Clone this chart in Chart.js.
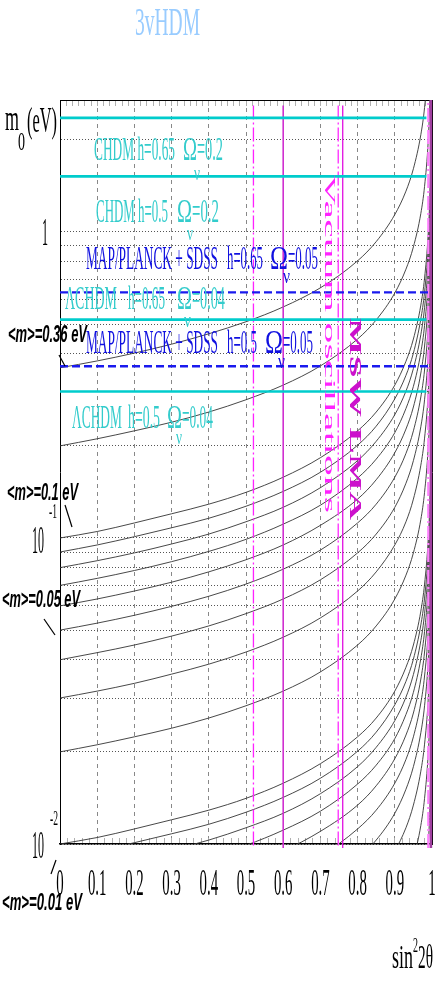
<!DOCTYPE html>
<html>
<head>
<meta charset="utf-8">
<script src="https://cdn.jsdelivr.net/npm/chart.js@4.4.1/dist/chart.umd.min.js"></script>
<style>
  html, body { margin: 0; padding: 0; background: #fff; }
  canvas { display: block; }
</style>
</head>
<body>
<canvas id="c" width="436" height="981"></canvas>
<script>
// sin^2(2theta) positions where each curve was read
const sin2 = [0, 0.1, 0.2, 0.3, 0.4, 0.5, 0.6, 0.7, 0.8, 0.85, 0.9, 0.93, 0.95, 0.97, 0.98, 0.99, 0.995, 0.998, 0.999, 0.9995];

// m0 (eV) along the constant <m> curves
const m036 = [0.36, 0.379, 0.402, 0.430, 0.465, 0.509, 0.569, 0.657, 0.805, 0.930, 1.14, 1.36, 1.61, 2.08, 2.55, 3.6];
const m020 = [0.2, 0.211, 0.224, 0.239, 0.258, 0.283, 0.316, 0.365, 0.447, 0.516, 0.632, 0.756, 0.894, 1.15, 1.41, 2.0, 2.83];
const m010 = [0.1, 0.105, 0.112, 0.120, 0.129, 0.141, 0.158, 0.183, 0.224, 0.258, 0.316, 0.378, 0.447, 0.577, 0.707, 1.0, 1.41, 2.24, 3.16];
const m009 = [0.09, 0.0949, 0.101, 0.108, 0.116, 0.127, 0.142, 0.164, 0.201, 0.232, 0.285, 0.340, 0.402, 0.520, 0.636, 0.9, 1.27, 2.01, 2.85];
const m008 = [0.08, 0.0843, 0.0894, 0.0956, 0.103, 0.113, 0.126, 0.146, 0.179, 0.207, 0.253, 0.302, 0.358, 0.462, 0.566, 0.8, 1.13, 1.79, 2.53, 3.58];
const m007 = [0.07, 0.0738, 0.0783, 0.0837, 0.0904, 0.099, 0.111, 0.128, 0.157, 0.181, 0.221, 0.265, 0.313, 0.404, 0.495, 0.7, 0.99, 1.57, 2.21, 3.13];
const m006 = [0.06, 0.0632, 0.0671, 0.0717, 0.0775, 0.0849, 0.0949, 0.110, 0.134, 0.155, 0.190, 0.227, 0.268, 0.346, 0.424, 0.6, 0.849, 1.34, 1.90, 2.68];
const m005 = [0.05, 0.0527, 0.0559, 0.0598, 0.0645, 0.0707, 0.0791, 0.0913, 0.112, 0.129, 0.158, 0.189, 0.224, 0.289, 0.354, 0.5, 0.707, 1.12, 1.58, 2.24];
const m004 = [0.04, 0.0422, 0.0447, 0.0478, 0.0516, 0.0566, 0.0632, 0.0730, 0.0894, 0.103, 0.126, 0.151, 0.179, 0.231, 0.283, 0.4, 0.566, 0.894, 1.26, 1.79];
const m003 = [0.03, 0.0316, 0.0335, 0.0359, 0.0387, 0.0424, 0.0474, 0.0548, 0.0671, 0.0775, 0.0949, 0.113, 0.134, 0.173, 0.212, 0.3, 0.424, 0.671, 0.949, 1.34];
const m002 = [0.02, 0.0211, 0.0224, 0.0239, 0.0258, 0.0283, 0.0316, 0.0365, 0.0447, 0.0516, 0.0632, 0.0756, 0.0894, 0.115, 0.141, 0.2, 0.283, 0.447, 0.632, 0.894];
const m001 = [0.01, 0.0105, 0.0112, 0.0120, 0.0129, 0.0141, 0.0158, 0.0183, 0.0224, 0.0258, 0.0316, 0.0378, 0.0447, 0.0577, 0.0707, 0.1, 0.141, 0.224, 0.316, 0.447];
const m0009 = [0.009, 0.00949, 0.0101, 0.0108, 0.0116, 0.0127, 0.0142, 0.0164, 0.0201, 0.0232, 0.0285, 0.0340, 0.0402, 0.0520, 0.0636, 0.09, 0.127, 0.201, 0.285, 0.402];
const m0008 = [0.008, 0.00843, 0.00894, 0.00956, 0.0103, 0.0113, 0.0126, 0.0146, 0.0179, 0.0207, 0.0253, 0.0302, 0.0358, 0.0462, 0.0566, 0.08, 0.113, 0.179, 0.253, 0.358];
const m0007 = [0.007, 0.00738, 0.00783, 0.00837, 0.00904, 0.0099, 0.0111, 0.0128, 0.0157, 0.0181, 0.0221, 0.0265, 0.0313, 0.0404, 0.0495, 0.07, 0.099, 0.157, 0.221, 0.313];
const m0006 = [0.006, 0.00632, 0.00671, 0.00717, 0.00775, 0.00849, 0.00949, 0.0110, 0.0134, 0.0155, 0.0190, 0.0227, 0.0268, 0.0346, 0.0424, 0.06, 0.0849, 0.134, 0.190, 0.268];
const m0005 = [0.005, 0.00527, 0.00559, 0.00598, 0.00645, 0.00707, 0.00791, 0.00913, 0.0112, 0.0129, 0.0158, 0.0189, 0.0224, 0.0289, 0.0354, 0.05, 0.0707, 0.112, 0.158, 0.224];
const m0004 = [0.004, 0.00422, 0.00447, 0.00478, 0.00516, 0.00566, 0.00632, 0.00730, 0.00894, 0.0103, 0.0126, 0.0151, 0.0179, 0.0231, 0.0283, 0.04, 0.0566, 0.0894, 0.126, 0.179];
const m0003 = [0.003, 0.00316, 0.00335, 0.00359, 0.00387, 0.00424, 0.00474, 0.00548, 0.00671, 0.00775, 0.00949, 0.0113, 0.0134, 0.0173, 0.0212, 0.03, 0.0424, 0.0671, 0.0949, 0.134];
const m0002 = [0.002, 0.00211, 0.00224, 0.00239, 0.00258, 0.00283, 0.00316, 0.00365, 0.00447, 0.00516, 0.00632, 0.00756, 0.00894, 0.0115, 0.0141, 0.02, 0.0283, 0.0447, 0.0632, 0.0894];
const m0001 = [0.001, 0.00105, 0.00112, 0.0012, 0.00129, 0.00141, 0.00158, 0.00183, 0.00224, 0.00258, 0.00316, 0.00378, 0.00447, 0.00577, 0.00707, 0.01, 0.0141, 0.0224, 0.0316, 0.0447];

// cosmological bounds on m0 (eV)
const chdmLevels = [2.36, 1.52, 0.517, 0.301];   // CHDM h=0.65, CHDM h=0.5, ΛCHDM h=0.65, ΛCHDM h=0.5
const mapLevels = [0.635, 0.364];                // MAP/PLANCK + SDSS h=0.65, h=0.5
const boundSpan = [0, 0.985];

// oscillation solution edges in sin^2 2θ
const vacuumEdges = [0.52, 0.748];
const mswEdges = [0.6, 0.76];
const edgeDash = 0.99;
const edgeSolid = 0.997;
const edgeSpan = [2.59, 0.0097];

const xTickValues = [0, 0.1, 0.2, 0.3, 0.4, 0.5, 0.6, 0.7, 0.8, 0.9, 1];
const xTickLabels = ["0", "0.1", "0.2", "0.3", "0.4", "0.5", "0.6", "0.7", "0.8", "0.9", "1"];

const CYAN = "#00cccc";
const BLUE = "#1a1aee";
const SERIF = (px) => px + 'px "Liberation Serif", "DejaVu Serif", serif';

const curves = [m036, m020, m010, m009, m008, m007, m006, m005, m004, m003, m002, m001,
  m0009, m0008, m0007, m0006, m0005, m0004, m0003, m0002, m0001];

const datasets = [];

curves.forEach((vals) => {
  datasets.push({
    data: vals.map((v, i) => ({ x: sin2[i], y: v })),
    showLine: true,
    borderColor: "#333",
    borderWidth: 0.9,
    pointRadius: 0,
    cubicInterpolationMode: "monotone",
    order: 3,
  });
});

function vline(x, color, width, dash, full) {
  datasets.push({
    data: [{ x: x, y: full ? 3 : edgeSpan[0] }, { x: x, y: edgeSpan[1] }],
    showLine: true,
    borderColor: color,
    borderWidth: width,
    borderDash: dash,
    pointRadius: 0,
    clip: { left: 0, top: 0, right: 6, bottom: 5 },
    order: 2,
  });
}

vline(vacuumEdges[0], "#ff22ff", 1.3, [14, 3, 2, 3]);
vline(vacuumEdges[1], "#ff44ff", 1.5, [14, 3, 2, 3]);
vline(mswEdges[0], "#d030d0", 1.6, []);
vline(mswEdges[1], "#e010e0", 1.3, []);
vline(edgeDash, "#ff80ff", 2.2, [14, 3, 2, 3], true);
vline(edgeSolid, "#a040a0", 2.6, [], true);

chdmLevels.forEach((m) => {
  datasets.push({
    data: boundSpan.map((x) => ({ x: x, y: m })),
    showLine: true,
    borderColor: CYAN,
    borderWidth: 2.6,
    pointRadius: 0,
    order: 1,
  });
});

mapLevels.forEach((m) => {
  datasets.push({
    data: [{ x: 0, y: m }, { x: 1, y: m }],
    showLine: true,
    borderColor: BLUE,
    borderWidth: 2.4,
    borderDash: [8, 4],
    pointRadius: 0,
    order: 1,
  });
});

// text drawn squeezed/stretched to a target width
function fitText(ctx, s, x, y, w, font, color, rot) {
  ctx.save();
  ctx.font = font;
  ctx.fillStyle = color;
  ctx.textAlign = "left";
  ctx.textBaseline = "alphabetic";
  const nat = ctx.measureText(s).width;
  ctx.translate(x, y);
  if (rot) ctx.rotate(rot);
  ctx.scale(w / nat, 1);
  ctx.fillText(s, 0, 0);
  ctx.restore();
}

function leader(ctx, x1, y1, x2, y2) {
  ctx.save();
  ctx.strokeStyle = "#000";
  ctx.lineWidth = 1.2;
  ctx.beginPath();
  ctx.moveTo(x1, y1);
  ctx.lineTo(x2, y2);
  ctx.stroke();
  ctx.restore();
}

const annotate = {
  id: "annotate",
  afterDraw(chart) {
    const ctx = chart.ctx;
    const xs = chart.scales.x;

    fitText(ctx, "3vHDM", 135, 35, 65, SERIF(40), "#99ccff");

    // axis titles
    fitText(ctx, "m", 5, 130, 14, SERIF(36), "#000");
    fitText(ctx, "0", 18, 150, 7, SERIF(26), "#000");
    fitText(ctx, "(eV)", 27, 132, 30, SERIF(36), "#000");
    fitText(ctx, "sin", 392, 968, 21, SERIF(34), "#000");
    fitText(ctx, "2", 413, 952, 5, SERIF(20), "#000");
    fitText(ctx, "2θ", 418, 968, 15, SERIF(34), "#000");

    // x tick labels
    ctx.font = SERIF(37);
    xTickValues.forEach((v, i) => {
      const w = ctx.measureText(xTickLabels[i]).width * 0.4;
      fitText(ctx, xTickLabels[i], xs.getPixelForValue(v) - w / 2, 895, w, SERIF(37), "#000");
      ctx.font = SERIF(37);
    });

    // y tick labels
    fitText(ctx, "1", 42, 245, 6, SERIF(40), "#000");
    fitText(ctx, "10", 32, 553, 12, SERIF(40), "#000");
    fitText(ctx, "-1", 49, 518, 8, SERIF(20), "#000");
    fitText(ctx, "10", 32, 858, 12, SERIF(40), "#000");
    fitText(ctx, "-2", 50, 825, 8, SERIF(20), "#000");

    // cosmology labels
    const cy = "#33cccc";
    fitText(ctx, "CHDM h=0.65", 94, 160, 81, SERIF(34), cy);
    fitText(ctx, "Ω", 183, 160, 14, SERIF(34), cy);
    fitText(ctx, "ν", 194, 180, 6, SERIF(22), cy);
    fitText(ctx, "=0.2", 197, 160, 26, SERIF(34), cy);

    fitText(ctx, "CHDM h=0.5", 96, 222, 72, SERIF(34), cy);
    fitText(ctx, "Ω", 177, 222, 15, SERIF(34), cy);
    fitText(ctx, "ν", 187, 240, 6, SERIF(22), cy);
    fitText(ctx, "=0.2", 192, 222, 27, SERIF(34), cy);

    const bl = "#1010e0";
    fitText(ctx, "MAP/PLANCK + SDSS", 86, 269, 132, SERIF(34), bl);
    fitText(ctx, "h=0.65", 227, 269, 36, SERIF(34), bl);
    fitText(ctx, "Ω", 270, 269, 18, SERIF(34), bl);
    fitText(ctx, "ν", 283, 283, 7, SERIF(22), bl);
    fitText(ctx, "=0.05", 288, 269, 30, SERIF(34), bl);

    fitText(ctx, "ΛCHDM", 65, 309, 52, SERIF(34), cy);
    fitText(ctx, "h=0.65", 128, 309, 37, SERIF(34), cy);
    fitText(ctx, "Ω", 177, 309, 15, SERIF(34), cy);
    fitText(ctx, "ν", 184, 327, 7, SERIF(22), cy);
    fitText(ctx, "=0.04", 192, 309, 33, SERIF(34), cy);

    fitText(ctx, "MAP/PLANCK + SDSS", 86, 353, 132, SERIF(34), bl);
    fitText(ctx, "h=0.5", 227, 353, 30, SERIF(34), bl);
    fitText(ctx, "Ω", 265, 353, 18, SERIF(34), bl);
    fitText(ctx, "ν", 278, 368, 7, SERIF(22), bl);
    fitText(ctx, "=0.05", 283, 353, 30, SERIF(34), bl);

    fitText(ctx, "ΛCHDM", 72, 428, 50, SERIF(34), cy);
    fitText(ctx, "h=0.5", 128, 428, 32, SERIF(34), cy);
    fitText(ctx, "Ω", 167, 428, 15, SERIF(34), cy);
    fitText(ctx, "ν", 176, 444, 6, SERIF(22), cy);
    fitText(ctx, "=0.04", 182, 428, 31, SERIF(34), cy);

    // oscillation regions (rotated)
    fitText(ctx, "Vacuum oscillations", 325, 175, 338, SERIF(15), "#ff22ff", Math.PI / 2);
    fitText(ctx, "MSW LMA", 350, 318, 202, "bold " + SERIF(16), "#cc11cc", Math.PI / 2);

    // <m> labels
    const bi = 'bold italic 24px "Liberation Sans", Arial, sans-serif';
    fitText(ctx, "<m>=0.36 eV", 8, 342, 79, bi, "#000");
    leader(ctx, 59, 355, 65, 366);
    fitText(ctx, "<m>=0.1 eV", 7, 500, 71, bi, "#000");
    leader(ctx, 65, 505, 72, 527);
    fitText(ctx, "<m>=0.05 eV", 2, 607, 78, bi, "#000");
    leader(ctx, 44, 619, 55, 635);
    fitText(ctx, "<m>=0.01 eV", 2, 910, 80, bi, "#000");
    leader(ctx, 51, 874, 56, 860);
  },
};

const hideLog = (c) => {
  const v = c.tick && c.tick.value;
  if (!v) return "#555";
  const s = v / Math.pow(10, Math.floor(Math.log10(v) + 1e-9));
  return Math.abs(s - 1.5) < 1e-6 || v > 2.5 ? "rgba(0,0,0,0)" : "#555";
};

new Chart(document.getElementById("c"), {
  type: "scatter",
  data: { datasets },
  options: {
    responsive: false,
    animation: false,
    events: [],
    layout: { padding: { top: 100, right: 4, left: 0, bottom: 0 } },
    plugins: {
      legend: { display: false },
      tooltip: { enabled: false },
    },
    scales: {
      x: {
        type: "linear",
        position: "bottom",
        min: 0,
        max: 1,
        ticks: { display: false, stepSize: 0.02 },
        grid: {
          color: (c) => {
            const v = c.tick ? c.tick.value : 0;
            return Math.abs(v * 10 - Math.round(v * 10)) < 1e-6 ? "#888" : "rgba(0,0,0,0)";
          },
          lineWidth: 1,
          tickLength: -6,
          tickColor: "#b0b0b0",
        },
        border: { color: "#000", width: 1.6, dash: [4, 4] },
        afterFit: (s) => { s.height = 137; },
      },
      xTop: {
        type: "linear",
        position: "top",
        min: 0,
        max: 1,
        ticks: { display: false, stepSize: 1 / 60 },
        grid: { drawOnChartArea: false, tickLength: -6, tickColor: "#b0b0b0" },
        border: { color: "#000", width: 1 },
        afterFit: (s) => { s.height = 0; },
      },
      y: {
        type: "logarithmic",
        position: "left",
        min: 0.01,
        max: 2.7,
        ticks: { display: false, autoSkip: false },
        grid: { color: hideLog, lineWidth: 1, drawTicks: false },
        border: { color: "#000", width: 1, dash: [1, 2] },
        afterFit: (s) => { s.width = 60; },
      },
      yRight: {
        type: "logarithmic",
        position: "right",
        min: 0.01,
        max: 2.7,
        ticks: { display: false },
        grid: { display: false },
        border: { color: "#000", width: 1 },
        afterFit: (s) => { s.width = 0; },
      },
    },
  },
  plugins: [annotate],
});
</script>
</body>
</html>
